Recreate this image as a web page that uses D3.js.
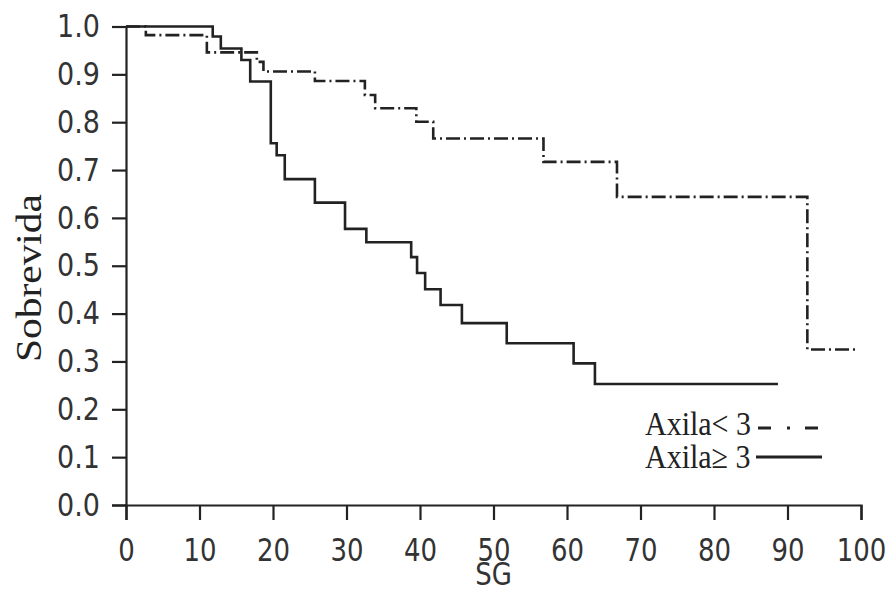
<!doctype html>
<html lang="es">
<head>
  <meta charset="utf-8">
  <title>Sobrevida - SG</title>
  <script type="text/javascript" src="https://cdnjs.cloudflare.com/ajax/libs/d3/7.8.5/d3.min.js"></script>
  <style>
    body { margin: 0; background: #fff; }
  </style>
</head>
<body>
	<svg width="886" height="590" id="svg"></svg>

<script type="text/javascript">

	// Axila >= 3 (solid)
	var timesHigh = [0, 11.8, 12.9, 15.7, 16.9, 19.7, 20.5, 21.6, 25.7, 29.8, 32.7, 38.8, 39.6, 40.7, 42.8, 45.7, 51.8, 60.9, 63.8, 88.7];
	var survHigh  = [1.0, 0.979, 0.954, 0.930, 0.885, 0.756, 0.731, 0.681, 0.632, 0.577, 0.549, 0.518, 0.485, 0.451, 0.418, 0.380, 0.338, 0.296, 0.253, 0.253];

	// Axila < 3 (dash-dot)
	var timesLow = [0, 2.7, 11.0, 17.8, 18.7, 25.7, 32.5, 33.9, 39.5, 41.8, 56.8, 66.8, 92.7, 99.4];
	var survLow  = [1.0, 0.982, 0.946, 0.926, 0.906, 0.886, 0.857, 0.829, 0.801, 0.766, 0.717, 0.644, 0.325, 0.325];

	var xTicks = [0, 10, 20, 30, 40, 50, 60, 70, 80, 90, 100];
	var yTicks = [0, 0.1, 0.2, 0.3, 0.4, 0.5, 0.6, 0.7, 0.8, 0.9, 1.0];

	var legendLabels = ['Axila< 3', 'Axila\u2265 3'];

	var plotLeft = 126, plotRight = 861, plotTop = 26.5, plotBottom = 505;
	var ink = '#222';
	// the source picture is a bit stretched vertically, so text is too
	var stretchX = 1.26, stretchY = 1.18;

	var svg = d3.select('#svg');

	var x = d3.scaleLinear()
				.domain([0, 100])
				.range([plotLeft, plotRight]);

	var y = d3.scaleLinear()
				.domain([0, 1])
				.range([plotBottom, plotTop]);

	var yAxis = svg.append('g')
		.attr('transform', 'translate(' + plotLeft + ',0)')
		.call(d3.axisLeft(y).tickValues(yTicks).tickSize(14).tickPadding(12).tickFormat(d3.format('.1f')));

	var xAxis = svg.append('g')
		.attr('transform', 'translate(0,' + plotBottom + ')')
		.call(d3.axisBottom(x).tickValues(xTicks).tickSize(15).tickPadding(6));

	[xAxis, yAxis].forEach(function(g) {
		g.selectAll('path, line').attr('stroke', ink).attr('stroke-width', 2.2);
	});

	yAxis.selectAll('text')
		.attr('fill', '#333')
		.attr('transform', 'scale(1,' + stretchY + ')')
		.style('font-family', 'DejaVu Sans')
		.style('font-size', '27px');

	xAxis.selectAll('text')
		.attr('fill', '#333')
		.attr('dy', 0)
		.attr('y', 56 / stretchX)
		.attr('transform', 'scale(1,' + stretchX + ')')
		.style('font-family', 'DejaVu Sans')
		.style('font-size', '26px');

	var line = d3.line()
				.x(function(d) { return x(d.t); })
				.y(function(d) { return y(d.s); })
				.curve(d3.curveStepAfter);

	var highData = timesHigh.map(function(t, i) { return {t: t, s: survHigh[i]}; });
	var lowData = timesLow.map(function(t, i) { return {t: t, s: survLow[i]}; });

	svg.append('path')
		.datum(lowData)
		.attr('d', line)
		.attr('fill', 'none')
		.attr('stroke', ink)
		.attr('stroke-width', 2.6)
		.attr('stroke-dasharray', '14,4,2,4');

	svg.append('path')
		.datum(highData)
		.attr('d', line)
		.attr('fill', 'none')
		.attr('stroke', ink)
		.attr('stroke-width', 2.6);

	// axis titles
	svg.append('text')
		.text('SG')
		.attr('x', (plotLeft + plotRight) / 2)
		.attr('y', 585 / stretchX)
		.attr('transform', 'scale(1,' + stretchX + ')')
		.attr('text-anchor', 'middle')
		.attr('fill', '#333')
		.style('font-family', 'DejaVu Sans')
		.style('font-size', '26px');

	svg.append('text')
		.text('Sobrevida')
		.attr('transform', 'translate(41,278) rotate(-90) scale(1.15,1)')
		.attr('text-anchor', 'middle')
		.attr('fill', '#222')
		.style('font-family', 'Liberation Serif')
		.style('font-size', '36px');

	// legend
	var legend = svg.append('g');

	legend.selectAll('text')
		.data(legendLabels)
		.enter()
		.append('text')
		.text(function(d) { return d; })
		.attr('x', 645)
		.attr('y', function(d, i) { return (435 + i * 33) / 1.12; })
		.attr('transform', 'scale(1,1.12)')
		.attr('fill', '#222')
		.style('font-family', 'Liberation Serif')
		.style('font-size', '30px');

	legend.append('line')
		.attr('x1', 758).attr('x2', 818)
		.attr('y1', 428).attr('y2', 428)
		.attr('stroke', ink)
		.attr('stroke-width', 3)
		.attr('stroke-dasharray', '13,16,3,15');

	legend.append('line')
		.attr('x1', 756).attr('x2', 822)
		.attr('y1', 457).attr('y2', 457)
		.attr('stroke', ink)
		.attr('stroke-width', 3);

</script>
</body>
</html>
